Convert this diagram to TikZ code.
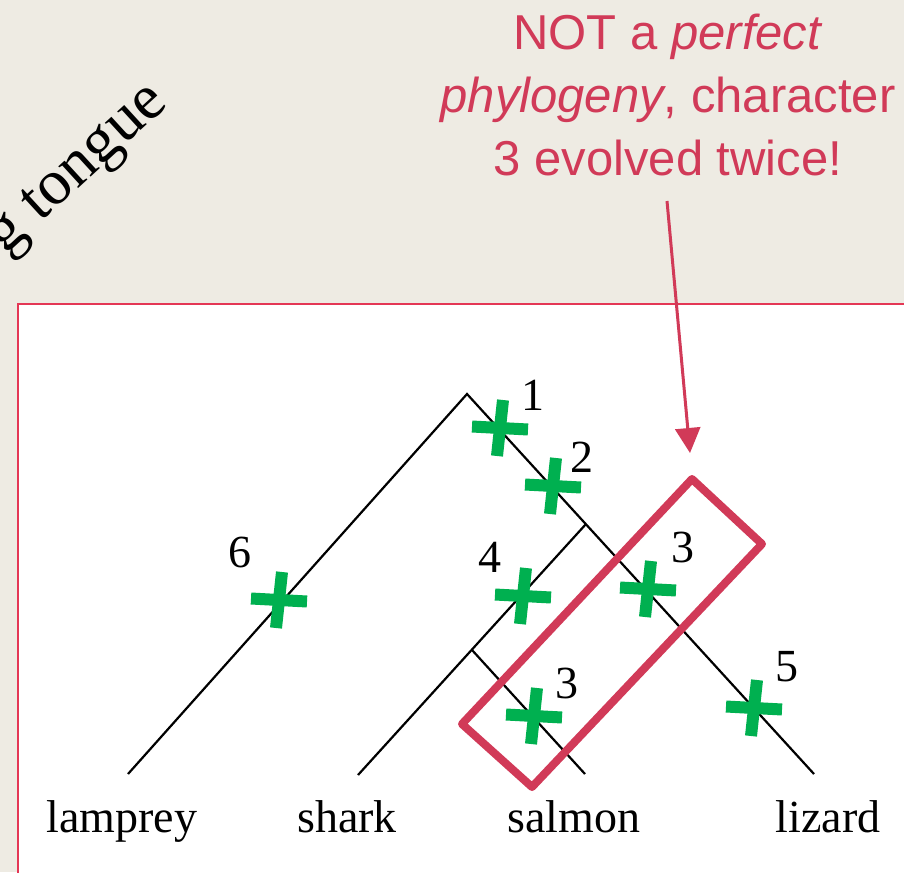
\documentclass[tikz,border=0pt]{standalone}
\usepackage{fontspec}
\setmainfont{Liberation Serif}
\newfontfamily\notefont{Liberation Sans}
\usetikzlibrary{arrows.meta}
\definecolor{paper}{RGB}{238,235,227}
\definecolor{rose}{RGB}{209,58,88}
\definecolor{roseFrame}{RGB}{228,55,85}
\definecolor{leafgreen}{RGB}{0,176,80}

\begin{document}
\begin{tikzpicture}[
      x=0.5pt, y=-0.5pt,
      branch/.style={line width=1.1pt, black},
      taxon/.style={anchor=base, font=\fontsize{23}{27}\selectfont},
      charnum/.style={font=\fontsize{23}{27}\selectfont},
      mutation/.style={leafgreen, line width=6pt},
      note/.style={align=center, text=rose, font=\notefont\fontsize{24.5}{31.5}\selectfont},
      pointer/.style={-{Triangle[length=12.5pt,width=12.5pt]}, line width=1.5pt, rose},
      highlight/.style={draw=rose, line width=4pt, line join=round}
    ]
    % --- page and panel ---
    \fill[paper] (0,0) rectangle (904,872);
    \useasboundingbox (0,0) rectangle (904,872);
    \fill[white] (18,304) rectangle (920,890);
    \draw[roseFrame, line width=1pt] (18,890) -- (18,304) -- (920,304);
    \node[rotate=42.5, anchor=base west, font=\fontsize{32}{38}\selectfont] (tongue) at (0,260) {g tongue};

    % --- tree ---
    \coordinate (root) at (467,394);
    \coordinate (forkShark) at (586,524);
    \coordinate (forkSalmon) at (472,650);
    \coordinate (tipLamprey) at (128,774);
    \coordinate (tipShark) at (358,775);
    \coordinate (tipSalmon) at (585,774);
    \coordinate (tipLizard) at (814,774);
    \draw[branch] (tipLamprey) -- (root) -- (tipLizard);
    \draw[branch] (forkShark) -- (tipShark);
    \draw[branch] (forkSalmon) -- (tipSalmon);

    \node[taxon] (lamprey) at (122,832) {lamprey};
    \node[taxon] (shark) at (347,832) {shark};
    \node[taxon] (salmon) at (574,832) {salmon};
    \node[taxon] (lizard) at (828,832) {lizard};

    % --- characters ---
    \foreach \n/\cx/\cy/\lx/\ly/\t in {c1/500/428/533/395/1, c2/553/486/582/457/2,
        c4/523/596/490/557/4, c3a/648/589/683/547/3, c3b/534/716/567/683/3,
        c5/754/708/787/667/5, c6/279/600/240/552/6}{
      \draw[mutation] (\cx+3,\cy-28) -- (\cx-3,\cy+28);
      \draw[mutation] (\cx-28,\cy-1.5) -- (\cx+28,\cy+1.5);
      \node[charnum] (\n) at (\lx,\ly) {\t};
    }

    % --- remark ---
    \draw[highlight] (692,479) -- (762,544) -- (532,787) -- (462,724) -- cycle;
    \node[note] (remark) at (668,95) {NOT a \textit{perfect}\\\textit{phylogeny}, character\\3 evolved twice!};
    \coordinate (tail) at (667,201);
    \coordinate (aim) at (690,453);
    \draw[pointer] (tail) -- (aim);
  \end{tikzpicture}
\end{document}
